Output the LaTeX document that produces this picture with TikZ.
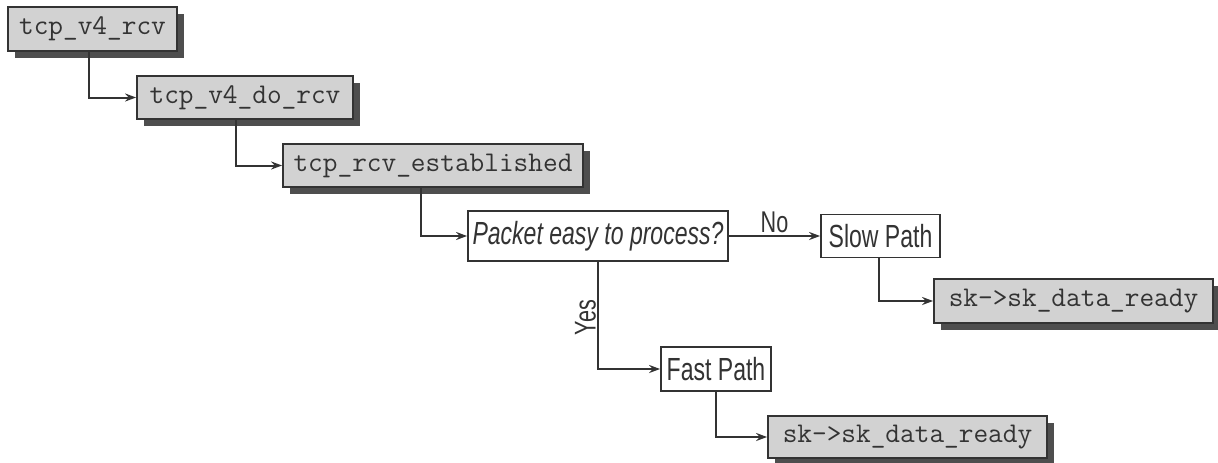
\documentclass[tikz,border=0pt]{standalone}
\usepackage{fontspec}
\setmainfont{Liberation Sans}
\setsansfont{Liberation Sans}[FakeStretch=0.72]
\usetikzlibrary{arrows.meta,shadows,positioning}
\definecolor{boxfill}{HTML}{D2D2D2}
\definecolor{shadowc}{HTML}{4E4E4E}
\definecolor{linec}{HTML}{333333}
\tikzset{
  codebox/.style={draw=linec, line width=1.8pt, fill=boxfill, text=linec,
    inner sep=0pt, font=\ttfamily\fontsize{28.5}{32}\selectfont,
    drop shadow={shadow xshift=7pt, shadow yshift=-7pt, fill=shadowc, opacity=1}},
  plainbox/.style={draw=linec, line width=1.8pt, fill=white, text=linec,
    inner sep=0pt, font=\sffamily\fontsize{32}{36}\selectfont},
  conn/.style={draw=linec, line width=2pt, -{Stealth[length=11pt,width=8pt]}},
  lbl/.style={text=linec, inner sep=1pt, font=\sffamily\fontsize{30}{34}\selectfont}
}
\begin{document}
\begin{tikzpicture}[x=1pt,y=1pt]
\useasboundingbox (0,0) rectangle (1218,-463);
\node[codebox, minimum width=169pt, minimum height=44pt] (b1) at (92.5,-29) {tcp\_v4\_rcv};
\node[codebox, minimum width=216pt, minimum height=43pt] (b2) at (245,-97.5) {tcp\_v4\_do\_rcv};
\node[codebox, minimum width=300pt, minimum height=43pt] (b3) at (433,-165.5) {tcp\_rcv\_established};
\node[plainbox, minimum width=260pt, minimum height=50pt] (dec) at (598,-236) {\itshape Packet easy to process?};
\node[plainbox, minimum width=119pt, minimum height=43pt] (slow) at (880.5,-236) {Slow Path};
\node[codebox, minimum width=279pt, minimum height=44pt] (sk1) at (1073.5,-301) {sk->sk\_data\_ready};
\node[plainbox, minimum width=110pt, minimum height=44pt] (fast) at (716,-369) {Fast Path};
\node[codebox, minimum width=279pt, minimum height=42pt] (sk2) at (907.5,-437) {sk->sk\_data\_ready};

\draw[conn] ([xshift=82pt]b1.south west) |- (b2.west);
\draw[conn] ([xshift=100pt]b2.south west) |- (b3.west);
\draw[conn] ([xshift=139pt]b3.south west) |- (dec.west);
\draw[conn] (dec.east) -- node[lbl, above, yshift=1pt] {No} (slow.west);
\draw[conn] ([xshift=-1.5pt]slow.south) |- (sk1.west);
\draw[conn] (dec.south) |- node[lbl, pos=0.26, rotate=90, above] {Yes} (fast.west);
\draw[conn] (fast.south) |- (sk2.west);
\end{tikzpicture}
\end{document}
